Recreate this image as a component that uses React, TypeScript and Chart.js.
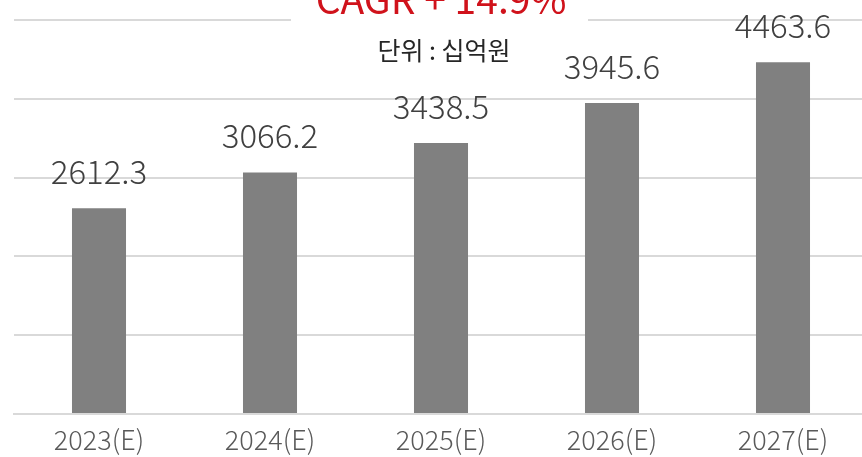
import React, { useEffect, useRef } from "react";
import { Chart, registerables } from "chart.js";

Chart.register(...registerables);

const categories = ["2023(E)", "2024(E)", "2025(E)", "2026(E)", "2027(E)"];
const values = [2612.3, 3066.2, 3438.5, 3945.6, 4463.6];
const titleText = "CAGR + 14.9%";
const unitText = "단위 : 십억원";
const FONT = "'Noto Sans CJK KR', 'Noto Sans', sans-serif";

const overlayPlugin = {
  id: "overlay",
  afterDatasetsDraw(chart: any) {
    const ctx = chart.ctx;
    const meta = chart.getDatasetMeta(0);
    ctx.save();
    ctx.font = `300 33px ${FONT}`;
    ctx.fillStyle = "#404040";
    ctx.textAlign = "center";
    ctx.textBaseline = "alphabetic";
    meta.data.forEach((bar: any, i: number) => {
      ctx.fillText(values[i].toFixed(1), bar.x, bar.y - 24);
    });
    // title box
    ctx.fillStyle = "#ffffff";
    ctx.fillRect(291, 0, 297, 25);
    ctx.font = `39px ${FONT}`;
    ctx.fillStyle = "#d0121b";
    ctx.fillText(titleText, 441, 14);
    ctx.font = `25px ${FONT}`;
    ctx.fillStyle = "#262626";
    ctx.fillText(unitText, 444, 60);
    ctx.restore();
  },
};

export default function App() {
  const ref = useRef<HTMLCanvasElement>(null);
  useEffect(() => {
    const chart = new Chart(ref.current!, {
      type: "bar",
      data: {
        labels: categories,
        datasets: [
          {
            data: values,
            backgroundColor: "#808080",
            categoryPercentage: 1,
            barPercentage: 0.316,
          },
        ],
      },
      options: {
        animation: false,
        responsive: false,
        maintainAspectRatio: false,
        layout: { padding: { left: 13.5, right: 1.5, top: 20, bottom: 0 } },
        plugins: { legend: { display: false }, tooltip: { enabled: false } },
        scales: {
          x: {
            grid: { display: false, drawTicks: false },
            border: { display: true, color: "#d9d9d9", width: 2 },
            ticks: { font: { family: FONT, size: 27, weight: 300 }, color: "#595959", padding: 10 },
            afterFit: (s: any) => {
              s.height = 43;
            },
          },
          y: {
            min: 0,
            max: 5000,
            ticks: { display: false, stepSize: 1000 },
            grid: { color: "#d9d9d9", lineWidth: 2, drawTicks: false },
            border: { display: false },
            afterFit: (s: any) => {
              s.width = 0;
            },
          },
        },
      },
      plugins: [overlayPlugin],
    });
    return () => chart.destroy();
  }, []);
  return (
    <div style={{ position: "fixed", left: 0, top: 0, width: 870, height: 457, overflow: "hidden", background: "#fff" }}>
      <canvas ref={ref} width={870} height={457} style={{ display: "block" }} />
    </div>
  );
}
